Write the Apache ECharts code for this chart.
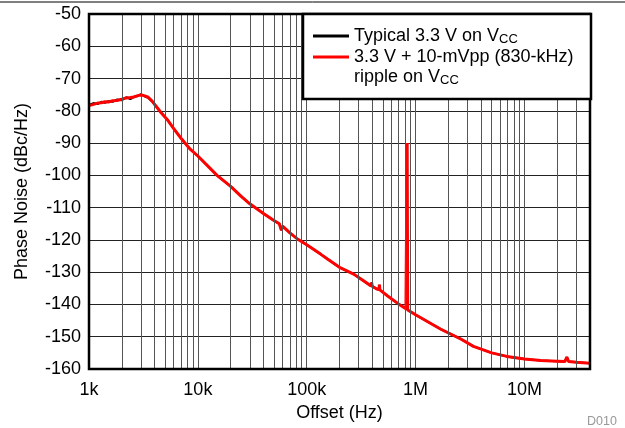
<!DOCTYPE html>
<html><head><meta charset="utf-8">
<script src="https://cdn.jsdelivr.net/npm/echarts@6/dist/echarts.min.js"></script>
<style>html,body{margin:0;padding:0;background:#fff}#c{width:625px;height:428px}</style>
</head><body><div id="c"></div>
<script>
// ---- data ----
const freqHz = [1000,1100,1200,1300,1400,1500,1650,1800,2000,2200,2400,2600,2800,3000,3200,3500,3800,4200,4600,5200,6000,7000,8500,10000,12500,15000,20000,25000,30000,40000,50000,56000,57500,58500,60000,70000,82000,100000,134000,155000,200000,270000,330000,390000,395000,400000,440000,460000,465000,470000,550000,680000,815000,834000,837000,843000,846000,1000000,1690000,2600000,3400000,5000000,6900000,10000000,14100000,20000000,23500000,24500000,25500000,30000000,40000000];
const typicalDb = [-78.2,-77.6,-77.9,-77.2,-77.5,-77.0,-77.2,-76.5,-76.7,-75.8,-76.4,-75.6,-75.5,-74.8,-75.4,-76.0,-77.1,-78.9,-80.6,-82.6,-85.5,-88.5,-91.9,-94.0,-97.3,-100.0,-103.4,-106.5,-108.8,-111.8,-114.0,-115.0,-114.8,-117.0,-115.7,-117.8,-119.7,-121.5,-124.4,-125.9,-128.5,-130.6,-132.6,-134.3,-133.2,-134.4,-135.2,-135.4,-133.9,-135.5,-137.3,-139.6,-141.3,-141.6,-141.6,-141.7,-141.7,-143.2,-147.6,-150.7,-153.0,-155.0,-156.1,-156.9,-157.4,-157.6,-157.7,-156.3,-157.7,-157.9,-158.2];
const rippleDb = [-78.4,-78.0,-77.6,-77.5,-77.2,-77.3,-76.9,-76.8,-76.4,-76.0,-75.9,-75.7,-75.3,-75.1,-75.3,-75.8,-77.0,-78.9,-80.6,-82.6,-85.5,-88.5,-91.9,-94.0,-97.3,-100.0,-103.4,-106.5,-108.8,-111.8,-114.0,-115.0,-114.8,-117.0,-115.7,-117.8,-119.7,-121.5,-124.4,-125.9,-128.5,-130.6,-132.6,-134.3,-133.2,-134.4,-135.2,-135.4,-133.9,-135.5,-137.3,-139.6,-141.3,-141.6,-90.0,-90.0,-141.7,-143.2,-147.6,-150.7,-153.0,-155.0,-156.1,-156.9,-157.4,-157.6,-157.7,-156.3,-157.7,-157.9,-158.2];
const xTickValues = [1e3,1e4,1e5,1e6,1e7];
const xTickLabels = ['1k','10k','100k','1M','10M'];
const seriesNames = ['Typical 3.3 V on VCC','3.3 V + 10-mVpp (830-kHz) ripple on VCC'];

// minor log grid positions (2..9 per decade)
const minorGrid = [];
for (let d = 1e3; d < 4e7; d *= 10) for (let m = 2; m <= 9; m++) { if (d*m < 4e7) minorGrid.push(d*m); }

const G = {left:89, top:14, right:35, bottom:59};
const W = 625, H = 428;
const chart = echarts.init(document.getElementById('c'), null, {renderer:'canvas'});
const font = 'Liberation Sans, Arial, sans-serif';
const fs = 18;
chart.setOption({
  animation:false,
  textStyle:{fontFamily:font},
  grid:{left:G.left,right:G.right,top:G.top,bottom:G.bottom,show:false},
  xAxis:{type:'log',logBase:10,min:1e3,max:4e7,
    name:'Offset (Hz)',nameLocation:'middle',nameGap:32,
    nameTextStyle:{fontSize:fs,color:'#000',fontFamily:font},
    axisLine:{show:false},axisTick:{show:false},
    axisLabel:{fontSize:fs,color:'#000',margin:12,fontFamily:font,
      formatter:function(v){for(let i=0;i<xTickValues.length;i++){if(Math.abs(Math.log10(v)-Math.log10(xTickValues[i]))<1e-6)return xTickLabels[i];}return '';}},
    splitLine:{show:true,lineStyle:{color:'#555',width:1}},
    minorSplitLine:{show:false}},
  yAxis:{type:'value',min:-160,max:-50,interval:10,
    name:'Phase Noise (dBc/Hz)',nameLocation:'middle',nameGap:58,
    nameTextStyle:{fontSize:fs,color:'#000',fontFamily:font},
    axisLine:{show:false},axisTick:{show:false},
    axisLabel:{fontSize:fs,color:'#000',margin:8,fontFamily:font},
    splitLine:{show:true,lineStyle:{color:'#222',width:1}}},
  legend:{data:seriesNames,orient:'vertical',left:313,top:26,padding:0,itemGap:-19,z:20,
    itemWidth:36,itemHeight:3,icon:'rect',selectedMode:false,
    textStyle:{fontSize:fs,color:'#000',lineHeight:20,fontFamily:font,
      rich:{sub:{fontSize:13,lineHeight:20,verticalAlign:'bottom',fontFamily:font,color:'#000'}}},
    formatter:function(n){
      if(n===seriesNames[0]) return 'Typical 3.3 V on V{sub|CC}';
      return '\n3.3 V + 10-mVpp (830-kHz)\nripple on V{sub|CC}';
    }},
  graphic:[
    {type:'rect',z:12,shape:{x:G.left,y:G.top,width:W-G.left-G.right,height:H-G.top-G.bottom},style:{fill:'none',stroke:'#000',lineWidth:2.5}},
    {type:'rect',z:15,shape:{x:303,y:14,width:288,height:85},style:{fill:'#fff',stroke:'#000',lineWidth:2.5}},
    {type:'line',z:15,shape:{x1:0,y1:2,x2:625,y2:2},style:{stroke:'#000',lineWidth:1}},
    {type:'text',z:15,left:587,top:415,style:{text:'D010',fontSize:12.5,fill:'#999',fontFamily:font}}
  ],
  series:[
    {name:'grid',type:'line',data:[],silent:true,z:1,
     markLine:{silent:true,symbol:['none','none'],label:{show:false},animation:false,
       lineStyle:{color:'#555',width:1,type:'solid'},
       data:minorGrid.map(v=>({xAxis:v}))}},
    {name:seriesNames[0],type:'line',showSymbol:false,symbol:'none',color:'#000',z:3,
     lineStyle:{color:'#000',width:2},
     data:freqHz.map((f,i)=>[f,typicalDb[i]])},
    {name:seriesNames[1],type:'line',showSymbol:false,symbol:'none',color:'#ff0000',z:4,
     lineStyle:{color:'#ff0000',width:3},
     data:freqHz.map((f,i)=>[f,rippleDb[i]])}
  ]
});
</script></body></html>
